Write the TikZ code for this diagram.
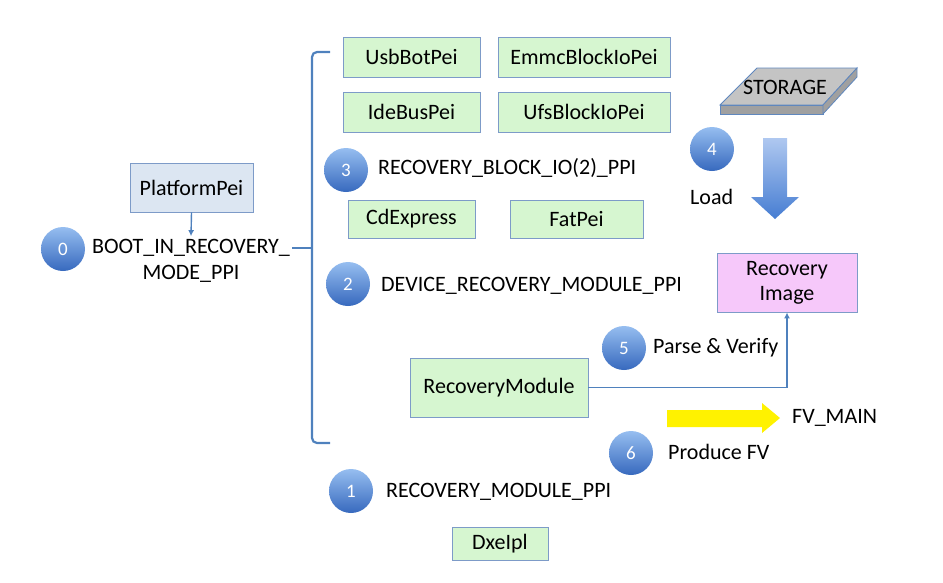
\documentclass[tikz,border=0pt]{standalone}
\usepackage{fontspec}
\setmainfont{Carlito}
\usetikzlibrary{arrows.meta}
\definecolor{gfill}{RGB}{214,246,208}
\definecolor{bborder}{RGB}{125,155,200}
\definecolor{pfill}{RGB}{220,230,242}
\definecolor{pinkfill}{RGB}{246,200,250}
\definecolor{conblue}{RGB}{79,129,189}
\definecolor{balltop}{RGB}{150,190,240}
\definecolor{ballbot}{RGB}{55,105,190}
\definecolor{stortop}{RGB}{196,196,196}
\definecolor{storfront}{RGB}{160,160,160}
\definecolor{storedge}{RGB}{95,135,190}
\definecolor{arrtop}{RGB}{175,200,240}
\definecolor{arrbot}{RGB}{70,125,210}
\begin{document}
\begin{tikzpicture}[x=1pt,y=-1pt,
  font=\fontsize{22}{26}\selectfont,
  gbox/.style={draw=bborder, fill=gfill, line width=0.9pt, inner sep=0pt},
  num/.style={circle, minimum size=44pt, inner sep=0pt, top color=balltop, bottom color=ballbot, text=white, font=\fontsize{19}{19}\selectfont},
  lbl/.style={anchor=west, inner sep=0pt},
  conn/.style={draw=conblue, line width=1.6pt},
  tip/.style={-{Latex[length=6pt,width=6pt]}}
]
\useasboundingbox (0,0) rectangle (943,582);

% boxes
\node[draw=bborder, fill=pfill, line width=0.9pt, minimum width=123pt, minimum height=49pt, inner sep=0pt] (pp) at (191.5,187.5) {PlatformPei};
\node[gbox, minimum width=137pt, minimum height=40pt] (usb) at (411.5,57) {UsbBotPei};
\node[gbox, minimum width=172pt, minimum height=40pt] (emmc) at (584,57) {EmmcBlockIoPei};
\node[gbox, minimum width=137pt, minimum height=40pt] (ide) at (411.5,112) {IdeBusPei};
\node[gbox, minimum width=172pt, minimum height=40pt] (ufs) at (584,112) {UfsBlockIoPei};
\node[gbox, minimum width=127pt, minimum height=38pt] (cd) at (411.5,219) {CdExpress};
\node[gbox, minimum width=133pt, minimum height=38pt] (fat) at (576.5,219) {FatPei};
\node[gbox, minimum width=178pt, minimum height=59pt] (rm) at (499,387.5) {RecoveryModule};
\node[draw=bborder, fill=pinkfill, line width=0.9pt, minimum width=140pt, minimum height=59pt, inner sep=0pt, align=center] (ri) at (787,282.5) {Recovery\\[-1pt]Image};
\node[gbox, minimum width=96pt, minimum height=33pt] (dxe) at (500,543.5) {DxeIpl};

% numbered circles
\node[num] (c0) at (63,249) {0};
\node[num] (c1) at (351,491) {1};
\node[num] (c2) at (348,284) {2};
\node[num] (c3) at (346,170) {3};
\node[num] (c4) at (712,149) {4};
\node[num] (c5) at (624,348) {5};
\node[num] (c6) at (631,453) {6};

% labels
\node[align=center, inner sep=0pt] (boot) at (191,261) {BOOT\_IN\_RECOVERY\_\\MODE\_PPI};
\node[lbl] (blk) at (378,168) {RECOVERY\_BLOCK\_IO(2)\_PPI};
\node[lbl] (dev) at (381,286) {DEVICE\_RECOVERY\_MODULE\_PPI};
\node[lbl] (pv) at (653,348) {Parse \& Verify};
\node[lbl] (fv) at (792,418) {FV\_MAIN};
\node[lbl] (pfv) at (668,452) {Produce FV};
\node[lbl] (rmp) at (386,492) {RECOVERY\_MODULE\_PPI};
\node[lbl] (load) at (690,197) {Load};

% connectors
\draw[conn, line width=1.4pt, tip] (pp.south) -- ([yshift=3pt]boot.north);
\draw[conn, tip] (rm.east) -| (ri.south);

% bracket
\draw[conn, line width=2.2pt, rounded corners=5pt] (330,52) -- (312,52) -- (312,443) -- (330,443);
\draw[conn, line width=2.2pt] (292,248) -- (312,248);

% storage slab
\filldraw[fill=stortop, draw=storedge, line width=0.8pt] (720,105) -- (823,105) -- (857,68) -- (757,68) -- cycle;
\filldraw[fill=storfront, draw=storedge, line width=0.8pt] (720,105) -- (823,105) -- (823,114) -- (720,114) -- cycle;
\filldraw[fill=storfront, draw=storedge, line width=0.8pt] (823,105) -- (857,68) -- (857,77) -- (823,114) -- cycle;
\node[inner sep=0pt] (stor) at (785,87) {STORAGE};

% load arrow
\shade[top color=arrtop, bottom color=arrbot] (763,138) -- (787,138) -- (787,197) -- (799,197) -- (775,219) -- (751,197) -- (763,197) -- cycle;

% yellow arrow
\fill[yellow] (667,410) -- (762,410) -- (762,403) -- (780,418) -- (762,433) -- (762,427) -- (667,427) -- cycle;
\end{tikzpicture}
\end{document}
